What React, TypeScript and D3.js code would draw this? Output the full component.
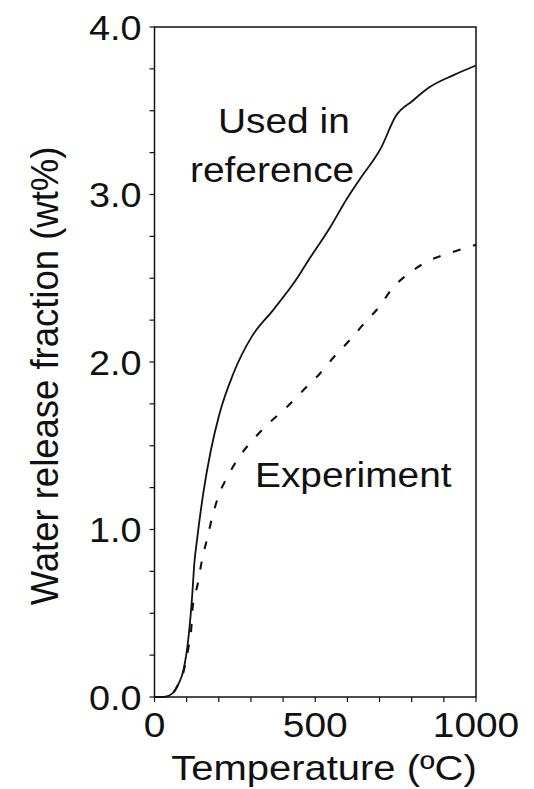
import React from "react";
import * as d3 from "d3";

// Temperature (°C) and cumulative water release (wt%)
const usedTemp = [0, 30, 55, 75, 90, 106, 117, 124, 133, 152, 175, 202, 245, 302, 369, 447, 473, 545, 597, 638, 705, 751, 803, 855, 927, 1000];
const usedWater = [0, 0, 0.02, 0.08, 0.16, 0.36, 0.6, 0.8, 0.95, 1.22, 1.47, 1.69, 1.93, 2.15, 2.31, 2.51, 2.59, 2.8, 2.97, 3.09, 3.28, 3.47, 3.56, 3.64, 3.71, 3.77];

const expTemp = [0, 30, 55, 75, 90, 106, 114, 119, 134, 148, 163, 179, 199, 227, 266, 313, 359, 411, 462, 514, 558, 607, 652, 699, 740, 792, 849, 917, 1000];
const expWater = [0, 0, 0.02, 0.08, 0.15, 0.3, 0.4, 0.54, 0.67, 0.82, 0.94, 1.07, 1.2, 1.315, 1.44, 1.55, 1.64, 1.73, 1.83, 1.93, 2.03, 2.13, 2.23, 2.33, 2.44, 2.53, 2.6, 2.65, 2.7];

const xTickLabels = [0, 500, 1000];
const yTickLabels = [0, 1, 2, 3, 4];
const xMinorTicks = d3.range(0, 1001, 100);
const yMinorTicks = d3.range(0, 4.001, 0.25);

const FONT = "Liberation Sans, Arial, Helvetica, sans-serif";

export default function App() {
  const width = 534;
  const height = 789;
  const left = 154.5;
  const right = 476;
  const top = 27;
  const bottom = 697;

  const x = d3.scaleLinear().domain([0, 1000]).range([left, right]);
  const y = d3.scaleLinear().domain([0, 4]).range([bottom, top]);

  const line = d3
    .line<[number, number]>()
    .x((d) => x(d[0]))
    .y((d) => y(d[1]))
    .curve(d3.curveMonotoneX);

  const usedPath = line(usedTemp.map((t, i) => [t, usedWater[i]]) as [number, number][]) || "";
  const expPath = line(expTemp.map((t, i) => [t, expWater[i]]) as [number, number][]) || "";

  const sx = 1.08;

  return (
    <svg
      width={width}
      height={height}
      style={{ position: "absolute", left: 0, top: 0, background: "#fff" }}
      fontFamily={FONT}
    >
      <rect x={0} y={0} width={width} height={height} fill="#fff" />

      {/* frame */}
      <rect
        x={left}
        y={top}
        width={right - left}
        height={bottom - top}
        fill="none"
        stroke="#111"
        strokeWidth={1.5}
      />

      {/* y ticks */}
      {yMinorTicks.map((v) => (
        <line key={"yt" + v} x1={left - 5} x2={left} y1={y(v)} y2={y(v)} stroke="#111" strokeWidth={1.2} />
      ))}
      {yTickLabels.map((v) => (
        <text
          key={"yl" + v}
          transform={`translate(${left - 13},${y(v) + 12.5}) scale(${sx},1)`}
          textAnchor="end"
          fontSize={35}
          fill="#111"
        >
          {v.toFixed(1)}
        </text>
      ))}

      {/* x ticks */}
      {xMinorTicks.map((v) => (
        <line key={"xt" + v} x1={x(v)} x2={x(v)} y1={bottom} y2={bottom + 5} stroke="#111" strokeWidth={1.2} />
      ))}
      {xTickLabels.map((v) => (
        <text
          key={"xl" + v}
          transform={`translate(${x(v)},${737}) scale(${sx},1)`}
          textAnchor="middle"
          fontSize={36}
          fill="#111"
        >
          {v}
        </text>
      ))}

      {/* axis titles */}
      <text
        transform={`translate(324,780) scale(1.11,1)`}
        textAnchor="middle"
        fontSize={36}
        fill="#111"
      >
        Temperature (ºC)
      </text>
      <text
        transform={`translate(58,376) rotate(-90) scale(0.96,1)`}
        textAnchor="middle"
        fontSize={38}
        fill="#111"
      >
        Water release fraction (wt%)
      </text>

      {/* curves */}
      <path d={usedPath} fill="none" stroke="#111" strokeWidth={1.8} />
      <path d={expPath} fill="none" stroke="#111" strokeWidth={2.1} strokeDasharray="8,13" />

      {/* curve labels */}
      <text transform={`translate(218,133) scale(${sx},1)`} fontSize={36} fill="#111">
        Used in
      </text>
      <text transform={`translate(190,182) scale(${sx},1)`} fontSize={36} fill="#111">
        reference
      </text>
      <text transform={`translate(255,487) scale(${sx},1)`} fontSize={36} fill="#111">
        Experiment
      </text>
    </svg>
  );
}
